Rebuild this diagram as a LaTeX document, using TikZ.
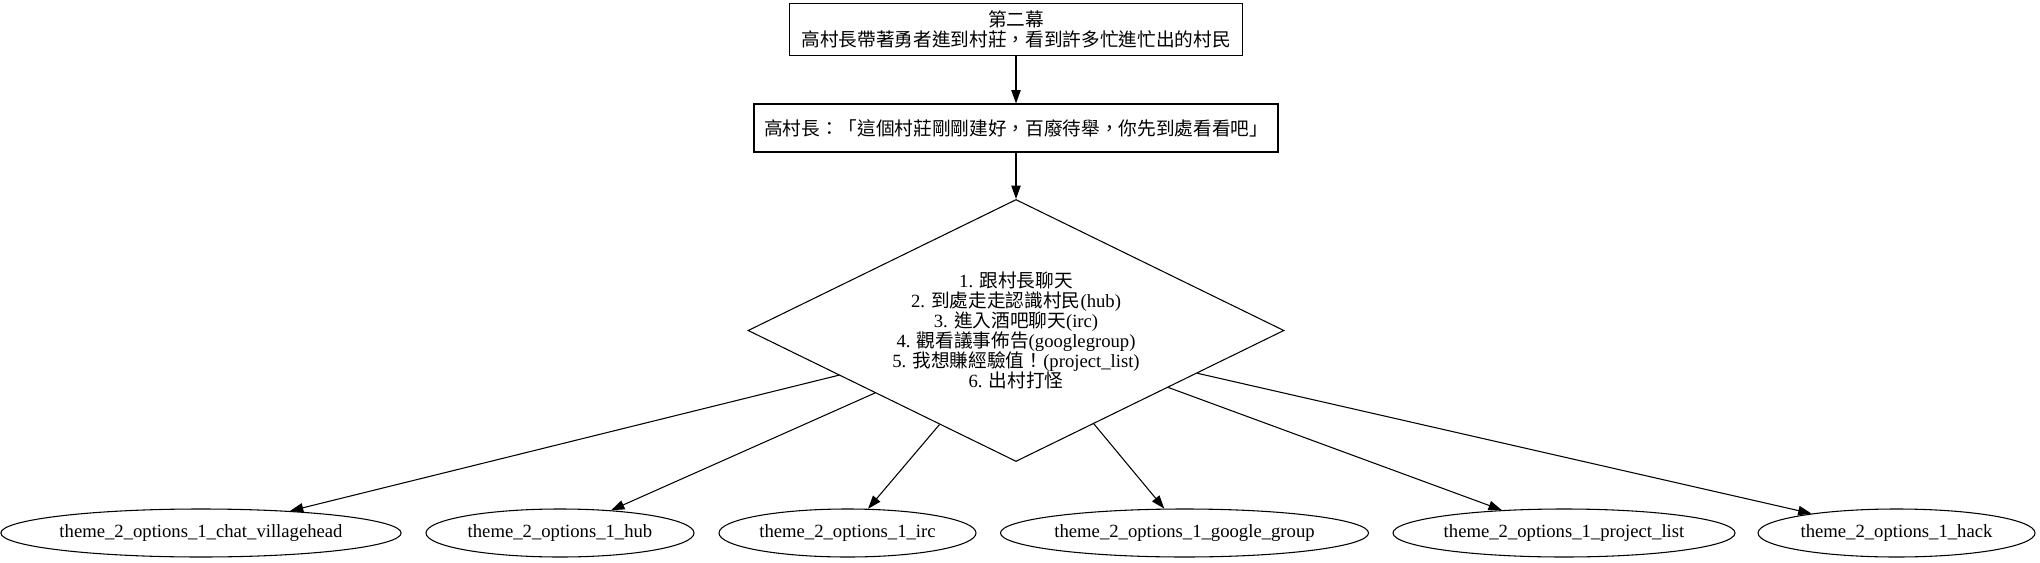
\documentclass[tikz,border=0pt]{standalone}
\usepackage{fontspec}
\setmainfont{Liberation Serif}
\newfontfamily\cjk{Noto Sans CJK TC}
\usetikzlibrary{shapes.geometric,arrows.meta,calc}
\begin{document}
\begin{tikzpicture}[x=0.75pt,y=-0.75pt,
  >={Triangle[length=10pt,width=7pt]},
  line width=0.8pt,
  stepbox/.style={draw, rectangle, inner sep=0pt, align=center,
    font=\fontsize{14pt}{14.5pt}\selectfont\cjk},
  optnode/.style={draw, ellipse, inner sep=0pt, minimum height=36pt,
    font=\fontsize{14pt}{16pt}\selectfont},
  choice/.style={draw, diamond, aspect=2.05, inner sep=0pt,
    minimum width=402pt, minimum height=196.5pt, align=center,
    font=\fontsize{14pt}{15pt}\selectfont}]
\useasboundingbox (0,0) rectangle (2040,563);

\node[stepbox, minimum width=340pt, minimum height=39pt] (b1) at (1016,29.5)
  {第二幕\\高村長帶著勇者進到村莊，看到許多忙進忙出的村民};
\node[stepbox, minimum width=393pt, minimum height=36pt] (b2) at (1016,128)
  {高村長：「這個村莊剛剛建好，百廢待舉，你先到處看看吧」};
\node[choice] (d) at (1016,330.5)
  {1. {\cjk 跟村長聊天}\\
   2. {\cjk 到處走走認識村民}(hub)\\
   3. {\cjk 進入酒吧聊天}(irc)\\
   4. {\cjk 觀看議事佈告}(googlegroup)\\
   5. {\cjk 我想賺經驗值！}(project\_list)\\
   6. {\cjk 出村打怪}};

\node[optnode, minimum width=297pt] (e1) at (201,533) {theme\_2\_options\_1\_chat\_villagehead};
\node[optnode, minimum width=201pt] (e2) at (560,533) {theme\_2\_options\_1\_hub};
\node[optnode, minimum width=192.75pt] (e3) at (847.5,533) {theme\_2\_options\_1\_irc};
\node[optnode, minimum width=273.75pt] (e4) at (1184.5,533) {theme\_2\_options\_1\_google\_group};
\node[optnode, minimum width=256.5pt] (e5) at (1564,533) {theme\_2\_options\_1\_project\_list};
\node[optnode, minimum width=207.75pt] (e6) at (1896.5,533) {theme\_2\_options\_1\_hack};

\draw[->] (b1) -- (b2);
\draw[->] (b2) -- (d);
\draw[->] ($(d.west)!0.34!(d.south)$) -- (e1);
\draw[->] ($(d.west)!0.475!(d.south)$) -- (e2);
\draw[->] ($(d.west)!0.715!(d.south)$) -- (e3);
\draw[->] ($(d.south)!0.29!(d.east)$) -- (e4);
\draw[->] ($(d.south)!0.567!(d.east)$) -- (e5);
\draw[->] ($(d.south)!0.675!(d.east)$) -- (e6);
\end{tikzpicture}
\end{document}
